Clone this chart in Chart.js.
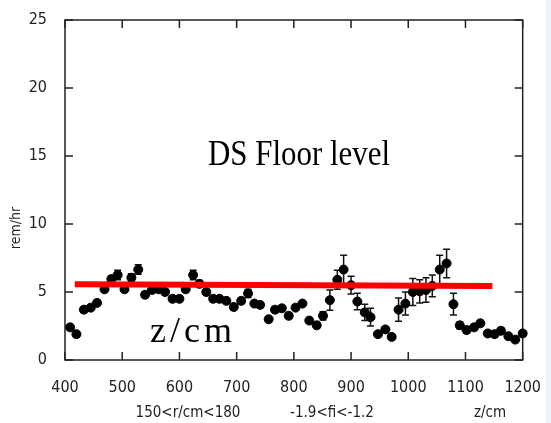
<!DOCTYPE html>
<html>
<head>
<meta charset="utf-8">
<script src="https://cdn.jsdelivr.net/npm/chart.js@4.4.0/dist/chart.umd.min.js"></script>
<style>
html, body { margin: 0; padding: 0; background: #fff; }
#wrap { width: 551px; height: 423px; background: linear-gradient(to right, #fff 546px, #e9f4fb 546px); }
canvas { display: block; }
</style>
</head>
<body>
<div id="wrap"><canvas id="chart" width="551" height="423"></canvas></div>
<script>
// z positions (cm) of the measured points
var zValues = [409, 420, 433, 445, 456, 469, 481, 492, 504, 516, 528, 540, 552, 564, 575, 588, 600, 611, 624, 635,
	647, 659, 670, 682, 695, 708, 720, 731, 741, 756, 767, 779, 791, 803, 815, 827, 840, 851, 863, 876,
	887, 900, 911, 924, 934, 947, 960, 971, 983, 995, 1008, 1020, 1031, 1042, 1055, 1067, 1079, 1090, 1102, 1115,
	1126, 1139, 1151, 1162, 1175, 1187, 1200];
// dose rate (rem/hr)
var doseValues = [2.4, 1.9, 3.7, 3.85, 4.2, 5.2, 5.95, 6.25, 5.2, 6.05, 6.65, 4.8, 5.15, 5.2, 5.0, 4.5, 4.5, 5.2, 6.25, 5.6,
	5.0, 4.5, 4.5, 4.35, 3.9, 4.35, 4.9, 4.15, 4.05, 3.0, 3.7, 3.8, 3.25, 3.85, 4.15, 2.9, 2.55, 3.25, 4.4, 5.9,
	6.65, 5.5, 4.3, 3.5, 3.15, 1.9, 2.25, 1.7, 3.7, 4.15, 5.0, 5.05, 5.15, 5.45, 6.65, 7.1, 4.1, 2.55, 2.2, 2.4,
	2.7, 1.95, 1.9, 2.15, 1.75, 1.5, 1.95];
var doseErrors = [0.2, 0.2, 0.2, 0.2, 0.2, 0.2, 0.25, 0.35, 0.2, 0.3, 0.35, 0.2, 0.2, 0.2, 0.2, 0.2, 0.2, 0.2, 0.35, 0.25,
	0.2, 0.2, 0.2, 0.2, 0.2, 0.2, 0.3, 0.2, 0.2, 0.2, 0.2, 0.2, 0.2, 0.2, 0.2, 0.2, 0.2, 0.3, 0.75, 0.7,
	1.05, 0.65, 0.6, 0.6, 0.65, 0.2, 0.2, 0.2, 0.85, 0.85, 1.0, 0.85, 0.9, 0.8, 1.05, 1.05, 0.8, 0.25, 0.2, 0.2,
	0.2, 0.2, 0.2, 0.2, 0.2, 0.2, 0.2];
// red floor level line
var floorZ = [417, 1147];
var floorDose = [5.57, 5.44];

var tickFont = '"DejaVu Sans Condensed", "DejaVu Sans", sans-serif';

var points = zValues.map(function(z, i) { return {x: z, y: doseValues[i]}; });
var floorLine = floorZ.map(function(z, i) { return {x: z, y: floorDose[i]}; });

// error bars under the markers
var errorBars = {
	id: 'errorBars',
	beforeDatasetsDraw: function(chart) {
		var c = chart.ctx, xs = chart.scales.x, ys = chart.scales.y;
		c.save();
		c.strokeStyle = '#111';
		c.lineWidth = 1.5;
		for (var i = 0; i < zValues.length; i++) {
			var px = xs.getPixelForValue(zValues[i]);
			var top = ys.getPixelForValue(doseValues[i] + doseErrors[i]);
			var bot = ys.getPixelForValue(doseValues[i] - doseErrors[i]);
			c.beginPath();
			c.moveTo(px, top); c.lineTo(px, bot);
			c.moveTo(px - 3.5, top); c.lineTo(px + 3.5, top);
			c.moveTo(px - 3.5, bot); c.lineTo(px + 3.5, bot);
			c.stroke();
		}
		c.restore();
	}
};

// box round the plot with inward ticks on all four sides
var frame = {
	id: 'frame',
	beforeDatasetsDraw: function(chart) {
		var c = chart.ctx, a = chart.chartArea, xs = chart.scales.x, ys = chart.scales.y;
		c.save();
		c.strokeStyle = '#222';
		c.lineWidth = 1.5;
		c.strokeRect(a.left, a.top, a.right - a.left, a.bottom - a.top);
		c.beginPath();
		xs.ticks.forEach(function(t) {
			var px = xs.getPixelForValue(t.value);
			c.moveTo(px, a.bottom); c.lineTo(px, a.bottom - 8);
			c.moveTo(px, a.top); c.lineTo(px, a.top + 8);
		});
		ys.ticks.forEach(function(t) {
			var py = ys.getPixelForValue(t.value);
			c.moveTo(a.left, py); c.lineTo(a.left + 8, py);
			c.moveTo(a.right, py); c.lineTo(a.right - 8, py);
		});
		c.stroke();
		c.restore();
	}
};

function fitText(c, text, x, y, w) {
	var m = c.measureText(text).width;
	c.save();
	c.translate(x, y);
	c.scale(w / m, 1);
	c.fillText(text, 0, 0);
	c.restore();
}

var labels = {
	id: 'labels',
	afterDraw: function(chart) {
		var c = chart.ctx;
		c.save();
		c.fillStyle = '#222';
		c.font = '14px ' + tickFont;
		c.textAlign = 'center';
		c.textBaseline = 'middle';
		c.save();
		c.translate(16, 228);
		c.rotate(-Math.PI / 2);
		c.fillText('rem/hr', 0, 0);
		c.restore();
		c.font = '15px ' + tickFont;
		c.fillText('150<r/cm<180', 188, 413);
		c.fillText('-1.9<fi<-1.2', 332, 413);
		c.fillText('z/cm', 490, 413);

		c.fillStyle = '#000';
		c.textAlign = 'left';
		c.textBaseline = 'alphabetic';
		c.font = '36px "Liberation Serif", "DejaVu Serif", serif';
		fitText(c, 'DS Floor level', 208, 165, 182);
		var w = c.measureText('z/cm').width;
		c.letterSpacing = Math.max(0, (82 - w) / 3).toFixed(1) + 'px';
		c.fillText('z/cm', 150, 342);
		c.restore();
	}
};

new Chart(document.getElementById('chart'), {
	type: 'scatter',
	data: {
		datasets: [{
			type: 'line',
			data: floorLine,
			borderColor: '#ff0000',
			borderWidth: 6,
			pointRadius: 0,
			order: 0
		}, {
			data: points,
			pointRadius: 4.5,
			pointBackgroundColor: '#000',
			pointBorderColor: '#000',
			clip: false,
			order: 1
		}]
	},
	options: {
		responsive: false,
		animation: false,
		layout: {padding: {left: 0, top: 20, right: 24, bottom: 0}},
		plugins: {legend: {display: false}, tooltip: {enabled: false}},
		scales: {
			x: {
				type: 'linear', min: 400, max: 1200,
				grid: {display: false}, border: {display: false},
				ticks: {stepSize: 100, color: '#222', padding: 10, maxRotation: 0, font: {family: tickFont, size: 16},
					callback: function(v) { return String(v); }},
				afterFit: function(s) { s.height = 63; }
			},
			y: {
				min: 0, max: 25,
				grid: {display: false}, border: {display: false},
				ticks: {stepSize: 5, color: '#222', padding: 10, font: {family: tickFont, size: 16},
					callback: function(v) { return String(v); }},
				afterFit: function(s) { s.width = 65; }
			}
		}
	},
	plugins: [errorBars, frame, labels]
});
</script>
</body>
</html>
